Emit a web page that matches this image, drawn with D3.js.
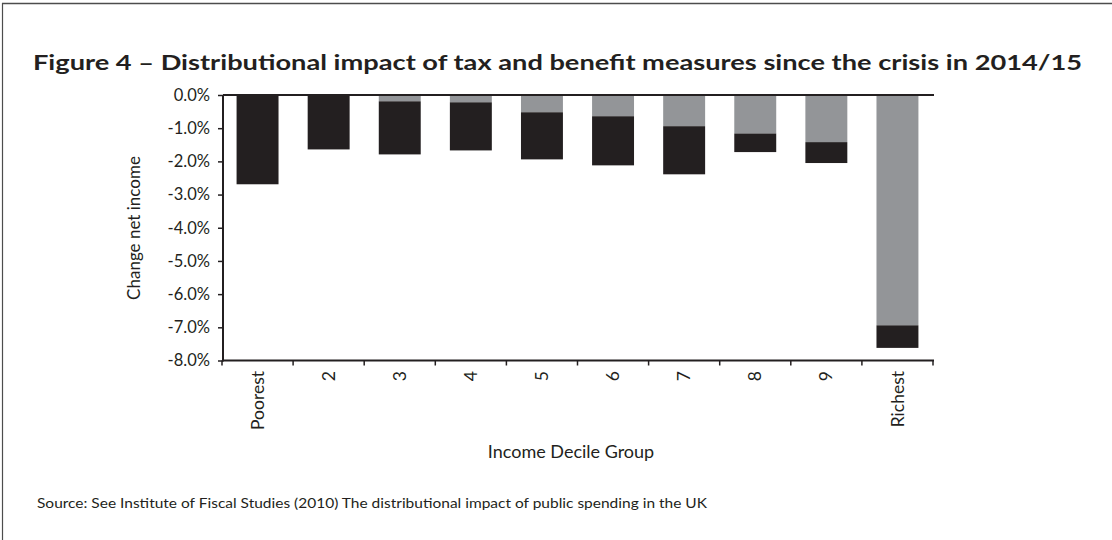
<!DOCTYPE html>
<html>
<head>
<meta charset="utf-8">
<script src="https://cdn.jsdelivr.net/npm/d3@7"></script>
<style>
  html, body { margin: 0; padding: 0; background: #fff; }
  svg { display: block; }
  text { font-family: Lato, "Open Sans", sans-serif; fill: #231f20; }
</style>
</head>
<body>
<svg id="chart" width="1112" height="540"></svg>
<script>
// ---- Data ----
const categories = ["Poorest", "2", "3", "4", "5", "6", "7", "8", "9", "Richest"];
const greyValues  = [0.00, 0.00, -0.19, -0.22, -0.52, -0.64, -0.94, -1.16, -1.42, -6.94];
const blackValues = [-2.69, -1.64, -1.60, -1.45, -1.42, -1.48, -1.45, -0.56, -0.63, -0.68];
const yTicks = [0, -1, -2, -3, -4, -5, -6, -7, -8];
const titleText = "Figure 4 \u2013 Distributional impact of tax and benefit measures since the crisis in 2014/15";
const yTitle = "Change net income";
const xTitle = "Income Decile Group";
const sourceText = "Source: See Institute of Fiscal Studies (2010) The distributional impact of public spending in the UK";

const colors = { grey: "#939598", black: "#231f20" };

const svg = d3.select("#chart");

// frame
svg.append("line").attr("x1", 2).attr("x2", 1112).attr("y1", 3.5).attr("y2", 3.5)
  .attr("stroke", "#4d4d4d").attr("stroke-width", 1.5);
svg.append("line").attr("x1", 2.5).attr("x2", 2.5).attr("y1", 3).attr("y2", 540)
  .attr("stroke", "#4d4d4d").attr("stroke-width", 1.2);

// title
svg.append("text").attr("x", 33).attr("y", 70)
  .attr("font-size", 20).attr("font-weight", "bold")
  .attr("textLength", 1049).attr("lengthAdjust", "spacingAndGlyphs")
  .text(titleText);

// scales
const x = d3.scaleBand().domain(categories).range([222, 933])
  .paddingInner(0.41).paddingOuter(0.205);
const y = d3.scaleLinear().domain([-8, 0]).range([360.5, 95]);

// stacked data
const rows = categories.map((c, i) => ({ cat: c, grey: greyValues[i], black: blackValues[i] }));
const stack = d3.stack().keys(["grey", "black"]).offset(d3.stackOffsetDiverging);
const series = stack(rows);

svg.append("g").selectAll("g").data(series).join("g")
  .attr("fill", d => colors[d.key])
  .selectAll("rect").data(d => d).join("rect")
  .attr("x", d => x(d.data.cat))
  .attr("width", x.bandwidth())
  .attr("y", d => y(Math.max(d[0], d[1])))
  .attr("height", d => Math.abs(y(d[0]) - y(d[1])));

// zero line
svg.append("line").attr("x1", 223).attr("x2", 934)
  .attr("y1", y(0)).attr("y2", y(0))
  .attr("stroke", "#231f20").attr("stroke-width", 2);

// y axis
const yAxis = d3.axisLeft(y).tickValues(yTicks).tickSize(5).tickPadding(8)
  .tickFormat(v => v.toFixed(1) + "%");
const gy = svg.append("g").attr("transform", "translate(223,0)").call(yAxis);
gy.select(".domain").remove();
gy.selectAll(".tick line").attr("stroke", "#231f20").attr("stroke-width", 1.5);
gy.selectAll(".tick text").attr("font-size", 16.5).attr("font-family", "Lato, sans-serif").attr("fill", "#231f20");
gy.append("line").attr("x1", 0).attr("x2", 0).attr("y1", y(0)).attr("y2", y(-8) + 1)
  .attr("stroke", "#231f20").attr("stroke-width", 2);

// x axis
const gx = svg.append("g");
gx.append("line").attr("x1", 222).attr("x2", 934).attr("y1", y(-8)).attr("y2", y(-8))
  .attr("stroke", "#231f20").attr("stroke-width", 2);
const boundaries = categories.map(c => x(c) - x.step() * x.paddingInner() / 2);
boundaries.push(x.range()[1]);
gx.selectAll("line.tk").data(boundaries).join("line").attr("class", "tk")
  .attr("x1", d => d).attr("x2", d => d)
  .attr("y1", y(-8)).attr("y2", y(-8) + 5)
  .attr("stroke", "#231f20").attr("stroke-width", 1.5);
gx.selectAll("text").data(categories).join("text")
  .attr("transform", d => `translate(${x(d) + x.bandwidth() / 2},371) rotate(-90)`)
  .attr("text-anchor", "end").attr("dy", "0.35em")
  .attr("font-size", 17.5)
  .text(d => d);

// axis titles
svg.append("text")
  .attr("transform", `translate(140,228) rotate(-90)`)
  .attr("text-anchor", "middle").attr("font-size", 17)
  .text(yTitle);
svg.append("text").attr("x", 571).attr("y", 458)
  .attr("text-anchor", "middle").attr("font-size", 18)
  .text(xTitle);

// source
svg.append("text").attr("x", 37).attr("y", 508)
  .attr("font-size", 13)
  .attr("textLength", 670).attr("lengthAdjust", "spacingAndGlyphs")
  .text(sourceText);
</script>
</body>
</html>
